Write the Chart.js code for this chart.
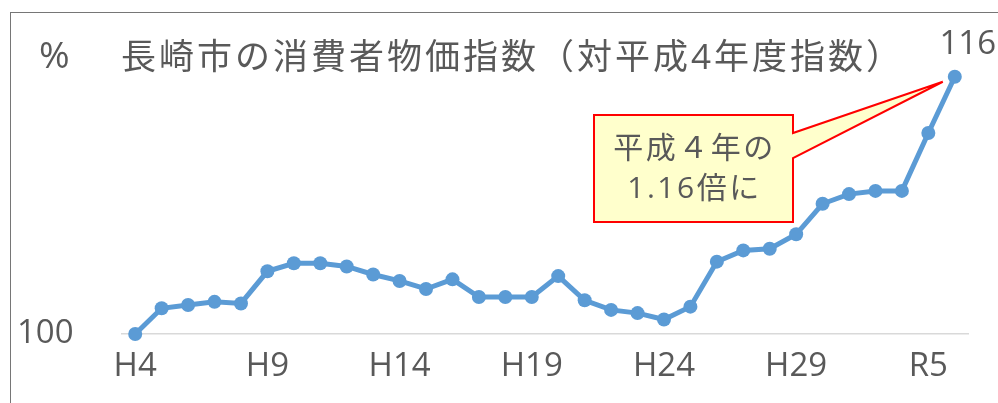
<!DOCTYPE html>
<html><head><meta charset="utf-8">
<script src="https://cdn.jsdelivr.net/npm/chart.js@4"></script>
<style>html,body{margin:0;padding:0;background:#fff}canvas{display:block}</style>
</head><body>
<canvas id="c" width="998" height="403"></canvas>
<script>
// ---- data ----
const categories = ['H4','H5','H6','H7','H8','H9','H10','H11','H12','H13','H14','H15','H16','H17','H18','H19','H20','H21','H22','H23','H24','H25','H26','H27','H28','H29','H30','H31','R2','R3','R4','R5'];
const cpiValues = [100.0, 101.6, 101.8, 102.0, 101.9, 103.9, 104.4, 104.4, 104.2, 103.7, 103.3, 102.8, 103.4, 102.3, 102.3, 102.3, 103.6, 102.1, 101.5, 101.3, 100.9, 101.7, 104.5, 105.2, 105.3, 106.2, 108.1, 108.7, 108.9, 108.9, 112.5, 116.0];
const tickLabels = ['H4','H9','H14','H19','H24','H29','R5'];
const tickEvery = 5;
const yMin = 100, yMax = 118;
const baseLabel = '100';
const unitText = '%';
const titleText = '長崎市の消費者物価指数（対平成4年度指数）';
const calloutLines = ['平成４年の', '1.16倍に'];
const endLabel = '116';

// ---- styles ----
const FONT = '"Open Sans", "Noto Sans CJK JP", sans-serif';
const TEXT = '#595959';
const LINE = '#5B9BD5';

const overlay = {
  id: 'overlay',
  beforeDraw(chart) {
    const ctx = chart.ctx;
    ctx.save();
    ctx.fillStyle = '#fff';
    ctx.fillRect(0, 0, chart.width, chart.height);
    ctx.strokeStyle = '#767676';
    ctx.lineWidth = 1;
    ctx.strokeRect(10.5, 12.5, chart.width + 100, chart.height + 100);
    ctx.restore();
  },
  beforeDatasetsDraw(chart) {
    const ctx = chart.ctx;
    const meta = chart.getDatasetMeta(0);
    const last = meta.data[meta.data.length - 1];
    const tip = { x: last.x - 12, y: last.y + 5 };
    const bx0 = 594, bx1 = 793, by0 = 115, by1 = 222;
    ctx.save();
    ctx.beginPath();
    ctx.moveTo(bx0, by0);
    ctx.lineTo(bx1, by0);
    ctx.lineTo(bx1, 133);
    ctx.lineTo(tip.x, tip.y);
    ctx.lineTo(bx1, 158);
    ctx.lineTo(bx1, by1);
    ctx.lineTo(bx0, by1);
    ctx.closePath();
    ctx.fillStyle = '#FFFFCC';
    ctx.fill();
    ctx.strokeStyle = '#FF0000';
    ctx.lineWidth = 2;
    ctx.lineJoin = 'miter';
    ctx.stroke();
    ctx.fillStyle = TEXT;
    ctx.font = '30px ' + FONT;
    ctx.textAlign = 'center';
    ctx.textBaseline = 'middle';
    if ('letterSpacing' in ctx) ctx.letterSpacing = '2.5px';
    const cx = (bx0 + bx1) / 2;
    ctx.fillText(calloutLines[0], cx + 1, 149);
    ctx.fillText(calloutLines[1], cx + 1, 189);
    ctx.restore();
  },
  afterDatasetsDraw(chart) {
    const ctx = chart.ctx;
    const meta = chart.getDatasetMeta(0);
    const last = meta.data[meta.data.length - 1];
    ctx.save();
    ctx.fillStyle = TEXT;
    ctx.textBaseline = 'middle';
    ctx.textAlign = 'left';
    ctx.font = '37px ' + FONT;
    ctx.fillText(unitText, 39, 57);
    ctx.font = '35px ' + FONT;
    if ('letterSpacing' in ctx) ctx.letterSpacing = '3px';
    ctx.fillText(titleText, 121, 59);
    if ('letterSpacing' in ctx) ctx.letterSpacing = '0px';
    ctx.font = '33px ' + FONT;
    ctx.textAlign = 'center';
    ctx.fillText(endLabel, last.x + 13, last.y - 32);
    ctx.restore();
  }
};

new Chart(document.getElementById('c'), {
  type: 'line',
  data: {
    labels: categories,
    datasets: [{
      data: cpiValues,
      borderColor: LINE,
      backgroundColor: LINE,
      borderWidth: 5,
      pointRadius: 7,
      pointHoverRadius: 7,
      pointBorderWidth: 0,
      pointBackgroundColor: LINE,
      tension: 0,
      clip: false
    }]
  },
  options: {
    responsive: false,
    devicePixelRatio: 1,
    animation: false,
    events: [],
    layout: { padding: { left: 17, right: 30, top: 44.6, bottom: 0 } },
    plugins: { legend: { display: false }, title: { display: false }, tooltip: { enabled: false } },
    scales: {
      x: {
        type: 'category',
        offset: true,
        grid: { display: false, drawTicks: false },
        border: { display: true, color: '#D9D9D9', width: 1.5 },
        ticks: {
          autoSkip: false, maxRotation: 0, minRotation: 0, padding: 13,
          color: TEXT, font: { family: FONT, size: 33 },
          callback: (v, i) => (i % tickEvery === 0 ? tickLabels[i / tickEvery] : '')
        },
        afterFit: s => { s.height = 69; }
      },
      y: {
        min: yMin, max: yMax,
        grid: { display: false, drawTicks: false },
        border: { display: false },
        ticks: {
          stepSize: 2, padding: 0, crossAlign: 'far', color: TEXT, font: { family: FONT, size: 33 },
          callback: v => (v === yMin ? baseLabel : '')
        },
        afterFit: s => { s.width = 105; }
      }
    }
  },
  plugins: [overlay]
});
</script>
</body></html>
